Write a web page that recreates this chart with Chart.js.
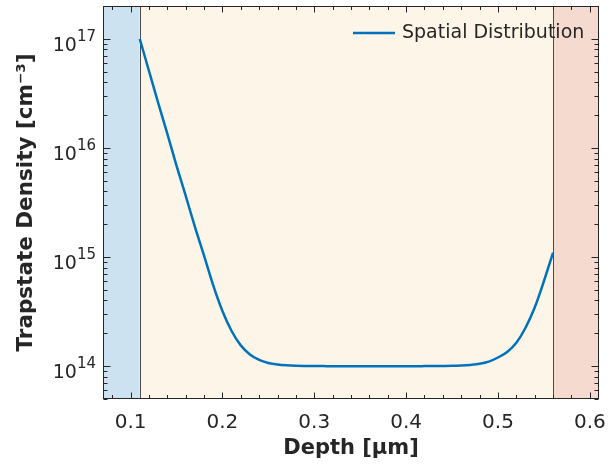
<!DOCTYPE html>
<html>
<head>
<meta charset="utf-8">
<script src="https://cdn.jsdelivr.net/npm/chart.js@4.4.1/dist/chart.umd.min.js"></script>
<style>
  html, body { margin: 0; padding: 0; background: #fff; }
  #wrap { width: 609px; height: 468px; }
</style>
</head>
<body>
<div id="wrap"><canvas id="c" width="609" height="468"></canvas></div>
<script>
// values
const depth = [
  0.11, 0.12, 0.13, 0.14, 0.15, 0.16, 0.17, 0.18, 0.19, 0.20,
  0.21, 0.22, 0.23, 0.24, 0.25, 0.26, 0.27, 0.28, 0.29, 0.30,
  0.31, 0.32, 0.33, 0.34, 0.35, 0.36, 0.37, 0.38, 0.39, 0.40,
  0.41, 0.42, 0.43, 0.44, 0.45, 0.46, 0.47, 0.48, 0.49, 0.50,
  0.51, 0.52, 0.53, 0.54, 0.55, 0.56
];
const density = [
  1.0e17, 5.1e16, 2.6e16, 1.35e16, 6.9e15, 3.65e15, 1.9e15, 1.03e15, 5.5e14, 3.2e14,
  2.1e14, 1.55e14, 1.28e14, 1.14e14, 1.07e14, 1.035e14, 1.017e14, 1.008e14, 1.004e14, 1.002e14,
  1.001e14, 1.0e14, 1.0e14, 1.0e14, 1.0e14, 1.0e14, 1.0e14, 1.0e14, 1.0e14, 1.0e14,
  1.0e14, 1.001e14, 1.002e14, 1.004e14, 1.007e14, 1.014e14, 1.027e14, 1.05e14, 1.1e14, 1.2e14,
  1.35e14, 1.64e14, 2.25e14, 3.45e14, 6.0e14, 1.1e15
];
const seriesLabel = "Spatial Distribution";

const regionEdges = [0.07, 0.11, 0.56, 0.61];
const regionColors = ["#cce2f0", "#fdf6e8", "#f5dad0"];

const xTickValues = [0.1, 0.2, 0.3, 0.4, 0.5, 0.6];
const yTickValues = [1e14, 1e15, 1e16, 1e17];
const yTickExponents = ["14", "15", "16", "17"];

const ink = "#262626";
const lineColor = "#0072bd";

const frame = {
  id: "frame",
  beforeDatasetsDraw(chart) {
    const { ctx, chartArea: a, scales: { x } } = chart;
    ctx.save();
    for (let i = 0; i < regionColors.length; i++) {
      const x0 = x.getPixelForValue(regionEdges[i]);
      const x1 = x.getPixelForValue(regionEdges[i + 1]);
      ctx.fillStyle = regionColors[i];
      ctx.fillRect(x0, a.top, x1 - x0, a.bottom - a.top);
    }
    ctx.strokeStyle = "#4a4a4a";
    ctx.lineWidth = 1;
    for (let i = 1; i < regionEdges.length - 1; i++) {
      const px = Math.round(x.getPixelForValue(regionEdges[i])) + 0.5;
      ctx.beginPath();
      ctx.moveTo(px, a.top);
      ctx.lineTo(px, a.bottom);
      ctx.stroke();
    }
    ctx.restore();
  },
  afterDatasetsDraw(chart) {
    const { ctx, chartArea: a, scales: { x, y } } = chart;
    const L = Math.round(a.left) + 0.5, R = Math.round(a.right) - 0.5;
    const T = Math.round(a.top) + 0.5, B = Math.round(a.bottom) - 0.5;
    ctx.save();
    ctx.strokeStyle = ink;
    ctx.lineWidth = 1;
    ctx.strokeRect(L, T, R - L, B - T);

    // x ticks, inward, bottom and top
    ctx.beginPath();
    for (let v = 0.08; v < 0.611; v += 0.02) {
      const major = Math.abs(v * 10 - Math.round(v * 10)) < 1e-6;
      const len = major ? 6 : 3.5;
      const px = Math.round(x.getPixelForValue(v)) + 0.5;
      ctx.moveTo(px, B); ctx.lineTo(px, B - len);
      ctx.moveTo(px, T); ctx.lineTo(px, T + len);
    }
    // y ticks, inward, left and right
    for (let d = 13; d <= 17; d++) {
      for (let m = 1; m <= 9; m++) {
        const v = m * Math.pow(10, d);
        if (v < y.min || v > y.max) continue;
        const len = m === 1 ? 7 : 4;
        const py = Math.round(y.getPixelForValue(v)) + 0.5;
        ctx.moveTo(L, py); ctx.lineTo(L + len, py);
        ctx.moveTo(R, py); ctx.lineTo(R - len, py);
      }
    }
    ctx.stroke();

    // y tick labels as 10^n
    ctx.fillStyle = ink;
    ctx.textBaseline = "alphabetic";
    yTickValues.forEach((v, i) => {
      const py = y.getPixelForValue(v);
      ctx.font = "15px 'DejaVu Sans'";
      const ew = ctx.measureText(yTickExponents[i]).width;
      const right = a.left - 7;
      ctx.textAlign = "right";
      ctx.fillText(yTickExponents[i], right, py + 2);
      ctx.font = "19px 'DejaVu Sans'";
      ctx.fillText("10", right - ew, py + 12);
    });

    // legend
    const ly = a.top + 27;
    ctx.strokeStyle = lineColor;
    ctx.lineWidth = 2.5;
    ctx.beginPath();
    ctx.moveTo(a.right - 246, ly);
    ctx.lineTo(a.right - 204, ly);
    ctx.stroke();
    ctx.fillStyle = ink;
    ctx.font = "19px 'DejaVu Sans'";
    ctx.textAlign = "left";
    ctx.textBaseline = "middle";
    ctx.fillText(seriesLabel, a.right - 197, ly);
    ctx.restore();
  }
};

new Chart(document.getElementById("c"), {
  type: "line",
  data: {
    datasets: [{
      label: seriesLabel,
      data: depth.map((d, i) => ({ x: d, y: density[i] })),
      borderColor: lineColor,
      borderWidth: 2.5,
      pointRadius: 0,
      fill: false,
      cubicInterpolationMode: "monotone"
    }]
  },
  options: {
    responsive: false,
    devicePixelRatio: 1,
    animation: false,
    layout: { padding: { left: 0, right: 10, top: 6, bottom: 0 } },
    plugins: { legend: { display: false }, tooltip: { enabled: false } },
    scales: {
      x: {
        type: "linear",
        min: 0.07,
        max: 0.61,
        grid: { display: false },
        border: { display: false },
        afterBuildTicks: s => { s.ticks = xTickValues.map(v => ({ value: v })); },
        afterFit: s => { s.height = 69; s.paddingLeft = 0; s.paddingRight = 0; },
        ticks: {
          autoSkip: false,
          maxRotation: 0,
          padding: 4,
          color: ink,
          font: { family: "DejaVu Sans", size: 20 },
          callback: v => v.toFixed(1)
        },
        title: {
          display: true,
          text: "Depth [μm]",
          color: ink,
          font: { family: "DejaVu Sans", size: 21, weight: "bold" },
          padding: { top: 0, bottom: 7 }
        }
      },
      y: {
        type: "logarithmic",
        min: 5e13,
        max: 2e17,
        grid: { display: false },
        border: { display: false },
        afterBuildTicks: s => { s.ticks = yTickValues.map(v => ({ value: v })); },
        afterFit: s => { s.width = 103; s.paddingTop = 0; s.paddingBottom = 0; },
        ticks: { display: false },
        title: {
          display: true,
          text: "Trapstate Density [cm⁻³]",
          color: ink,
          font: { family: "DejaVu Sans", size: 21.5, weight: "bold" },
          padding: { top: 14, bottom: 0 }
        }
      }
    }
  },
  plugins: [frame]
});
</script>
</body>
</html>
